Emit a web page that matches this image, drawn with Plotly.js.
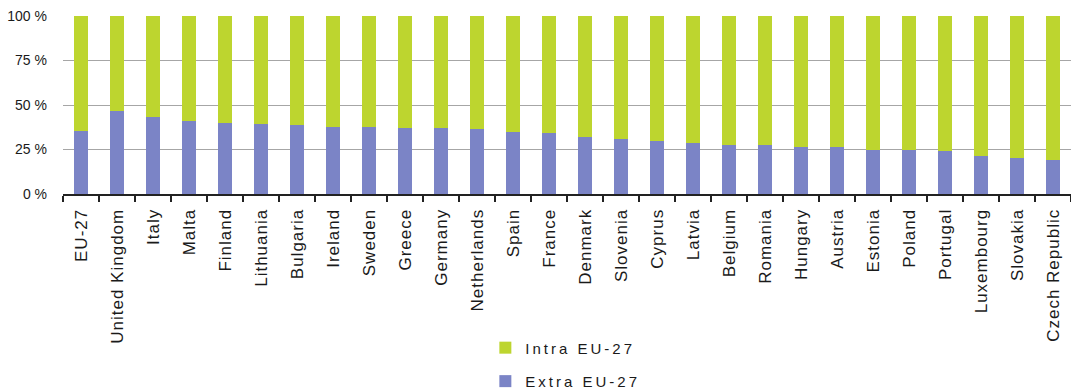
<!DOCTYPE html>
<html>
<head>
<meta charset="utf-8">
<script src="https://cdn.plot.ly/plotly-3.0.1.min.js"></script>
<style>
  html, body { margin: 0; padding: 0; background: #fff; }
  #chart { width: 1071px; height: 392px; }
  .legendtext, .legend2text, .scrollbox text { letter-spacing: 3px; }
  .scrollbox { clip-path: none !important; }
  .xtick text { letter-spacing: 1px; }
</style>
</head>
<body>
<div id="chart"></div>
<script>
// Share of trade by partner, per country (percent)
const countries = [
  'EU-27', 'United Kingdom', 'Italy', 'Malta', 'Finland', 'Lithuania', 'Bulgaria',
  'Ireland', 'Sweden', 'Greece', 'Germany', 'Netherlands', 'Spain', 'France',
  'Denmark', 'Slovenia', 'Cyprus', 'Latvia', 'Belgium', 'Romania', 'Hungary',
  'Austria', 'Estonia', 'Poland', 'Portugal', 'Luxembourg', 'Slovakia', 'Czech Republic'
];

const extraEU = [
  35.5, 46.9, 43.3, 41.1, 40.0, 39.1, 39.0,
  37.9, 37.9, 37.0, 37.0, 36.6, 35.1, 34.2,
  32.1, 31.0, 29.7, 28.6, 27.7, 27.7, 26.3,
  26.3, 25.0, 25.0, 24.2, 21.6, 20.2, 19.0
];

const intraEU = [
  64.5, 53.1, 56.7, 58.9, 60.0, 60.9, 61.0,
  62.1, 62.1, 63.0, 63.0, 63.4, 64.9, 65.8,
  67.9, 69.0, 70.3, 71.4, 72.3, 72.3, 73.7,
  73.7, 75.0, 75.0, 75.8, 78.4, 79.8, 81.0
];

const yTickVals = [0, 25, 50, 75, 100];
const yTickText = ['0 %', '25 %', '50 %', '75 %', '100 %'];

const seriesNames = ['Extra EU-27', 'Intra EU-27'];
const seriesColors = ['#7b84c6', '#bdd52f'];

const traces = [
  {
    type: 'bar', name: seriesNames[0], x: countries, y: extraEU,
    marker: { color: seriesColors[0] }, legend: 'legend2', hoverinfo: 'x+y'
  },
  {
    type: 'bar', name: seriesNames[1], x: countries, y: intraEU,
    marker: { color: seriesColors[1] }, legend: 'legend', hoverinfo: 'x+y'
  }
];

const legendCommon = {
  xref: 'paper', yref: 'paper', xanchor: 'left', yanchor: 'top',
  font: { size: 15, color: '#1a1a1a' },
  itemwidth: 30, bgcolor: 'rgba(0,0,0,0)', borderwidth: 0
};

const layout = {
  width: 1071, height: 392,
  margin: { l: 63, r: 0, t: 16, b: 198, autoexpand: false },
  paper_bgcolor: '#ffffff', plot_bgcolor: '#ffffff',
  barmode: 'stack',
  bargap: 0.59,
  font: { family: 'Liberation Sans, Arial, sans-serif', color: '#1a1a1a' },
  xaxis: {
    type: 'category',
    tickmode: 'array', tickvals: countries,
    tickangle: -90,
    tickfont: { size: 17, color: '#1a1a1a' },
    ticks: 'outside', tickson: 'boundaries', ticklen: 6, tickwidth: 2, tickcolor: '#222',
    showline: true, linecolor: '#222', linewidth: 2,
    showgrid: false, fixedrange: true,
    ticklabelstandoff: 6
  },
  yaxis: {
    range: [0, 100],
    tickvals: yTickVals, ticktext: yTickText,
    tickfont: { size: 14, color: '#1a1a1a' },
    showgrid: true, gridcolor: '#a6a6a6', gridwidth: 1,
    zeroline: false, showline: false, ticks: '',
    ticklabelstandoff: 15, fixedrange: true
  },
  showlegend: true,
  legend: Object.assign({}, legendCommon, { x: 0.419, y: -0.772 }),
  legend2: Object.assign({}, legendCommon, { x: 0.419, y: -0.96 })
};

Plotly.newPlot('chart', traces, layout, { displayModeBar: false, staticPlot: true });
</script>
</body>
</html>
